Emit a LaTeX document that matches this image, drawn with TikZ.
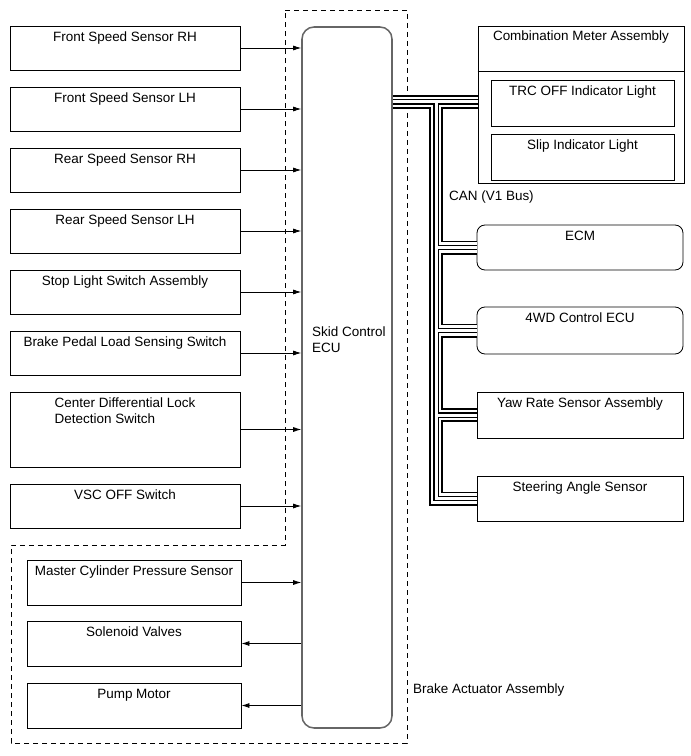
\documentclass[tikz,border=0pt]{standalone}
\usepackage{fontspec}
\setmainfont{Liberation Sans}
\usetikzlibrary{positioning,arrows.meta}
\newlength\pxu
\setlength\pxu{0.3mm}

\tikzset{
  box/.style={draw, line width=0.7pt, minimum width=230\pxu, minimum height=44\pxu, inner sep=0pt},
  rbox/.style={box, rounded corners=8\pxu},
  boxtitle/.style={anchor=north, inner sep=0pt, yshift=-6\pxu, align=left},
  sig/.style={-{Latex[length=2.4mm,width=1.5mm]}, line width=0.7pt},
}

\begin{document}
\begin{tikzpicture}[x=\pxu, y=-\pxu, font=\fontsize{11.5}{13.5}\selectfont]
        \useasboundingbox (0,0) rectangle (690,756);

        % ECU and actuator outline
        \node[draw=black!60, line width=1.3pt, rounded corners=12\pxu, minimum width=90\pxu, minimum height=701\pxu] (ecu) at (347,377.5) {};
        \node[anchor=west, align=left] (ecutext) at (308,340) {Skid Control\\ECU};
        \draw[line width=0.6pt, dash pattern=on 5\pxu off 4\pxu] (285,10) -- (407,10) -- (407,743) -- (11,743) -- (11,545) -- (285,545) -- cycle;
        \node[anchor=west] (bact) at (409,690) {Brake Actuator Assembly};

        % inputs
        \node[box, label={[boxtitle]north:Front Speed Sensor RH}] (fsrh) at (125,48) {};
        \node[box, label={[boxtitle]north:Front Speed Sensor LH}] (fslh) at (125,109) {};
        \node[box, label={[boxtitle]north:Rear Speed Sensor RH}] (rsrh) at (125,170) {};
        \node[box, label={[boxtitle]north:Rear Speed Sensor LH}] (rslh) at (125,231) {};
        \node[box, label={[boxtitle]north:Stop Light Switch Assembly}] (stop) at (125,292) {};
        \node[box, label={[boxtitle]north:Brake Pedal Load Sensing Switch}] (bpls) at (125,353) {};
        \node[box, minimum height=75\pxu, label={[boxtitle]north:Center Differential Lock\\Detection Switch}] (cdl) at (125,429.5) {};
        \node[box, label={[boxtitle]north:VSC OFF Switch}] (vsc) at (125,506) {};

        \draw[sig] (fsrh.east) -- (ecu.west |- fsrh.east);
        \draw[sig] (fslh.east) -- (ecu.west |- fslh.east);
        \draw[sig] (rsrh.east) -- (ecu.west |- rsrh.east);
        \draw[sig] (rslh.east) -- (ecu.west |- rslh.east);
        \draw[sig] (stop.east) -- (ecu.west |- stop.east);
        \draw[sig] (bpls.east) -- (ecu.west |- bpls.east);
        \draw[sig] (cdl.east) -- (ecu.west |- cdl.east);
        \draw[sig] (vsc.east) -- (ecu.west |- vsc.east);

        % brake actuator parts
        \node[box, minimum width=214\pxu, minimum height=45\pxu, label={[boxtitle]north:Master Cylinder Pressure Sensor}] (mcps) at (134,582.5) {};
        \node[box, minimum width=214\pxu, minimum height=45\pxu, label={[boxtitle]north:Solenoid Valves}] (sol) at (134,643.5) {};
        \node[box, minimum width=214\pxu, minimum height=45\pxu, label={[boxtitle]north:Pump Motor}] (pump) at (134,705.5) {};

        \draw[sig] (mcps.east) -- (ecu.west |- mcps.east);
        \draw[sig] (ecu.west |- sol.east) -- (sol.east);
        \draw[sig] (ecu.west |- pump.east) -- (pump.east);

        % CAN side
        \node[box, minimum width=206\pxu, minimum height=157\pxu, label={[boxtitle, yshift=1\pxu]north:Combination Meter Assembly}] (meter) at (581,104.5) {};
        \draw[line width=0.7pt] (meter.west |- 0,71) -- (meter.east |- 0,71);
        \node[box, minimum width=183\pxu, minimum height=46\pxu, label={[boxtitle]north:TRC OFF Indicator Light}] (trc) at (582.5,103) {};
        \node[box, minimum width=183\pxu, minimum height=46\pxu, label={[boxtitle]north:Slip Indicator Light}] (slip) at (582.5,157) {};

        \node[rbox, minimum width=206\pxu, minimum height=45\pxu, label={[boxtitle]north:ECM}] (ecm) at (580,247.5) {};
        \node[rbox, minimum width=206\pxu, minimum height=47\pxu, label={[boxtitle]north:4WD Control ECU}] (fwd) at (580,330.5) {};
        \node[box, minimum width=206\pxu, minimum height=46\pxu, label={[boxtitle]north:Yaw Rate Sensor Assembly}] (yaw) at (580,415) {};
        \node[box, minimum width=206\pxu, minimum height=45\pxu, label={[boxtitle]north:Steering Angle Sensor}] (sas) at (580,498.5) {};

        \node[anchor=west] (can) at (445,197) {CAN (V1 Bus)};

        \coordinate (bustop) at (436,102);
        \foreach \w/\c in {14/black,10.5/white,5.5/black,3/white}
          \draw[line width=\w\pxu, draw=\c] (ecu.east |- bustop) -- (meter.west |- bustop)
            (bustop) -- (bustop |- sas.west) -- (sas.west)
            (bustop |- ecm.west) -- (ecm.west)
            (bustop |- fwd.west) -- (fwd.west)
            (bustop |- yaw.west) -- (yaw.west);
    \end{tikzpicture}
\end{document}
